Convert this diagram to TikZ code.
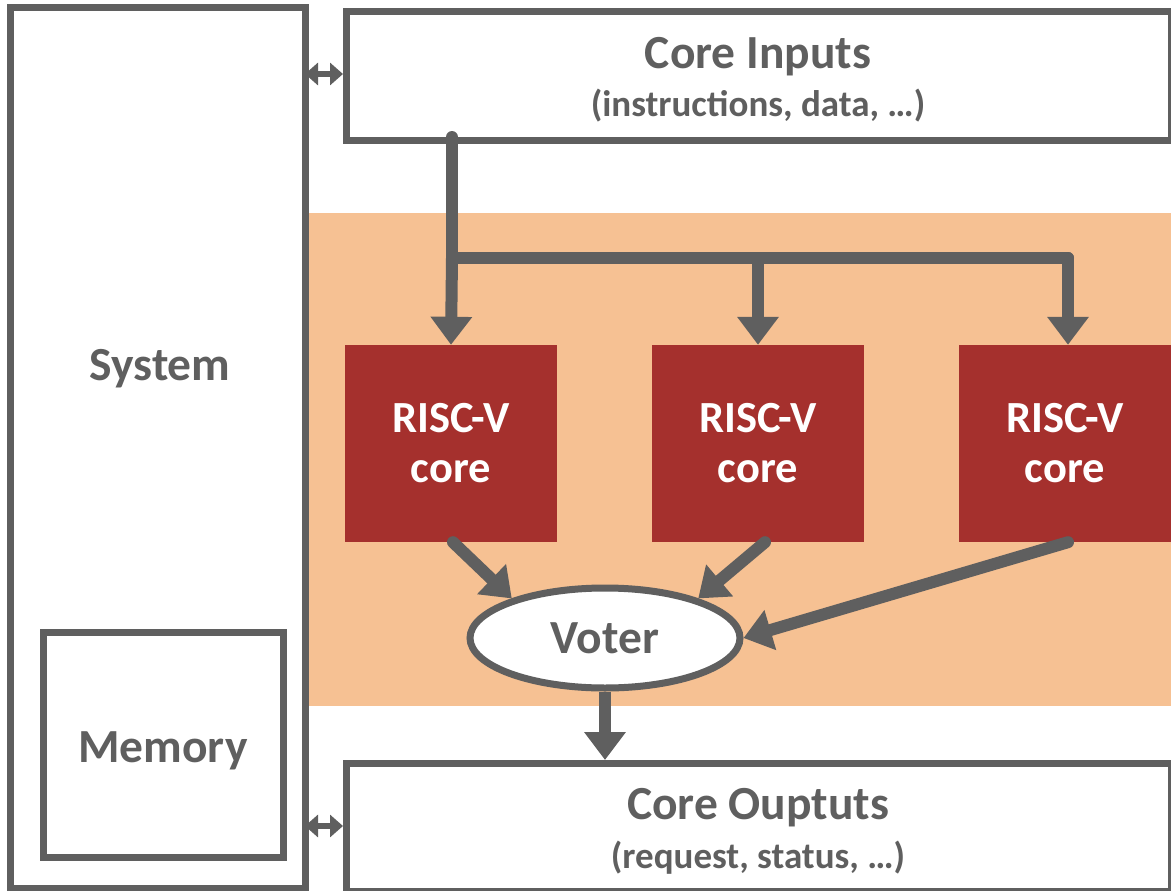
\documentclass[tikz,border=0pt]{standalone}
\usepackage{fontspec}
\setmainfont{Carlito}
\usetikzlibrary{arrows.meta,shapes.geometric}
\definecolor{ink}{HTML}{5F5F5F}
\definecolor{band}{HTML}{F6C193}
\definecolor{corered}{HTML}{A5302D}
\tikzset{
  frame/.style={draw=ink,line width=7pt,fill=white},
  corebox/.style={fill=corered,minimum width=212pt,minimum height=197pt,inner sep=0pt,
    text=white,font=\bfseries\fontsize{44.5}{50}\selectfont,align=center},
  bigarrow/.style={draw=ink,line width=12pt,line cap=round,
    -{Triangle[width=40pt,length=28pt]}},
  bigline/.style={draw=ink,line width=12pt,line cap=round},
  linkarrow/.style={draw=ink,line width=6pt,
    {Triangle[width=22pt,length=13pt]}-{Triangle[width=22pt,length=13pt]}},
  title/.style={text=ink,font=\bfseries\fontsize{47.5}{52}\selectfont},
  subtitle/.style={text=ink,font=\bfseries\fontsize{37}{42}\selectfont},
}
\begin{document}
\begin{tikzpicture}[x=1pt,y=-1pt]
\useasboundingbox (0,0) rectangle (1171,891);
% shaded redundancy region
\fill[band] (308,213) rectangle (1171,706);
% system and memory
\draw[frame] (10,8) rectangle (305,888);
\node[title] (system) at (160,369) {System};
\draw[frame] (43,632) rectangle (283,857);
\node[title] (memory) at (163,751) {Memory};
% core inputs / outputs
\node[frame,minimum width=825pt,minimum height=129pt,inner sep=0pt,anchor=north west] (inputs) at (343,8) {};
\node[title] at (758,57) {Core Inputs};
\node[subtitle] at (758,106) {(instructions, data, …)};
\node[frame,minimum width=825pt,minimum height=128pt,inner sep=0pt,anchor=north west] (outputs) at (343,760) {};
\node[title] at (758,808) {Core Ouptuts};
\node[subtitle] at (758,858) {(request, status, …)};
% links to the system
\coordinate (sysA) at (305,74);
\coordinate (inA) at (343,74);
\coordinate (sysB) at (305,826);
\coordinate (outB) at (343,826);
\draw[linkarrow] (sysA) -- (inA);
\draw[linkarrow] (sysB) -- (outB);
% cores
\node[corebox] (core1) at (451,443.5) {RISC-V\\core};
\node[corebox] (core2) at (758,443.5) {RISC-V\\core};
\node[corebox] (core3) at (1065,443.5) {RISC-V\\core};
% voter
\node[ellipse,draw=ink,line width=7pt,fill=white,minimum width=270pt,minimum height=100pt,inner sep=0pt,
  text=ink,font=\bfseries\fontsize{47.5}{52}\selectfont] (voter) at (605,638) {Voter};
% fan-out of inputs
\coordinate (src) at (452,137);
\coordinate (split) at (452,258);
\coordinate (mid) at (758,258);
\coordinate (far) at (1068,258);
\draw[bigline] (src) -- (split) -- (far);
\draw[bigarrow] (split) -- (core1.north);
\draw[bigarrow] (mid) -- (core2.north);
\draw[bigarrow] (far) -- (core3.north -| far);
% votes
\draw[bigarrow] ([xshift=2pt]core1.south) -- (voter.157);
\draw[bigarrow] ([xshift=7pt]core2.south) -- (voter.23);
\draw[bigarrow] ([xshift=3pt]core3.south) -- (voter.east);
\draw[bigarrow,line cap=butt] (voter.south) -- (outputs.north -| voter.south);
\end{tikzpicture}
\end{document}
